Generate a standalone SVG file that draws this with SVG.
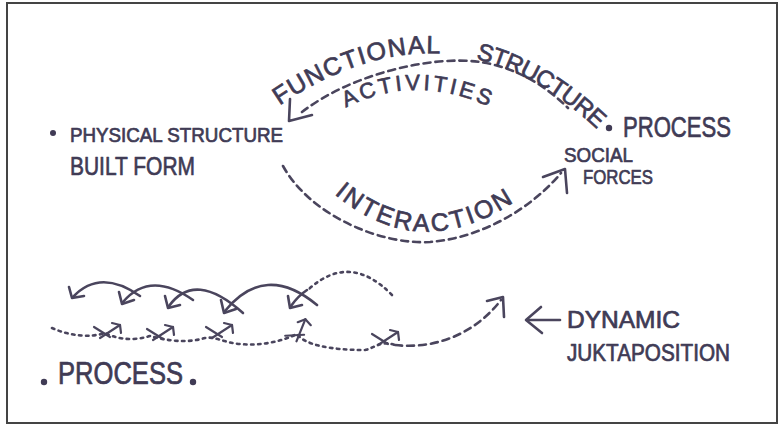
<svg xmlns="http://www.w3.org/2000/svg" xmlns:xlink="http://www.w3.org/1999/xlink" width="784" height="426" viewBox="0 0 784 426">
<style>
.ink{fill:none;stroke:#4a455d;stroke-width:2.6;stroke-linecap:round;stroke-linejoin:round}
.dash{stroke-dasharray:7 5}
.dot{stroke-dasharray:2.5 4.5}
.t{font-family:"Liberation Sans","DejaVu Sans",sans-serif;fill:#403b55;stroke:#403b55;stroke-width:0.7;stroke-linejoin:round}
.bullet{fill:#403b55}
</style>
<defs>
<path id="pFS" d="M 276 108 Q 450 -12 600 132"/>
<path id="pAct" d="M 343 109 Q 415 71 494 109"/>
<path id="pInt" d="M 332 192 Q 420 268 520 198"/>
<g id="xm" class="ink" style="stroke-width:2.2">
<path d="M -14 -4 L 2 6"/>
<path d="M -8 7 L 12 -6"/>
<path d="M 4 -8 L 12 -6 L 13 2"/>
</g>
</defs>
<rect x="7" y="3" width="770" height="420" fill="#ffffff" stroke="#444" stroke-width="2"/>

<g id="physical-structure">
<circle class="bullet" cx="53" cy="133" r="3"/>
<text class="t" x="70" y="142" font-size="20" textLength="213" lengthAdjust="spacingAndGlyphs">PHYSICAL STRUCTURE</text>
<text class="t" x="70" y="175" font-size="26" textLength="125" lengthAdjust="spacingAndGlyphs">BUILT FORM</text>
</g>

<g id="process-social">
<circle class="bullet" cx="609" cy="128" r="3.2"/>
<text class="t" x="623" y="137" font-size="29" textLength="108" lengthAdjust="spacingAndGlyphs">PROCESS</text>
<text class="t" x="564" y="162" font-size="21" textLength="69" lengthAdjust="spacingAndGlyphs">SOCIAL</text>
<text class="t" x="583" y="184" font-size="21" textLength="70" lengthAdjust="spacingAndGlyphs">FORCES</text>
</g>

<g id="process-bottom">
<circle class="bullet" cx="44" cy="382" r="3.2"/>
<text class="t" x="58" y="384" font-size="31" textLength="125" lengthAdjust="spacingAndGlyphs">PROCESS</text>
<circle class="bullet" cx="193" cy="382" r="3.2"/>
</g>

<g id="dynamic-juxtaposition">
<text class="t" x="567" y="328" font-size="23" textLength="113" lengthAdjust="spacingAndGlyphs">DYNAMIC</text>
<text class="t" x="567" y="361" font-size="23" textLength="163" lengthAdjust="spacingAndGlyphs">JUKTAPOSITION</text>
</g>

<g id="connectors">
<path class="ink dash" d="M 302 112 C 350 75, 430 55, 480 62 C 515 67, 545 85, 568 108"/>
<polyline class="ink" points="290,99 289,121 312,115"/>
<path class="ink dash" d="M 283 166 C 310 215, 380 245, 430 242 C 480 238, 530 210, 561 173"/>
<polyline class="ink" points="543,177 565,169 567,193"/>
<path class="ink" d="M 140 296 Q 100 268 73 297"/>
<polyline class="ink" points="69,287 72,298 84,296"/>
<path class="ink" d="M 193 300 Q 150 270 123 302"/>
<polyline class="ink" points="119,292 122,304 134,300"/>
<path class="ink" d="M 243 313 Q 195 270 169 306"/>
<polyline class="ink" points="165,296 168,308 180,305"/>
<path class="ink" d="M 317 305 Q 265 262 225 311"/>
<polyline class="ink" points="221,300 224,313 236,309"/>
<path class="ink" d="M 307 290 Q 298 296 291 306"/>
<path class="ink dot" d="M 392 295 Q 350 252 309 289"/>
<polyline class="ink" points="288,296 290,308 302,305"/>
<path class="ink dot" d="M 52 328 C 70 336, 90 338, 105 333 C 115 338, 130 342, 150 336 C 165 340, 185 344, 205 338 C 215 336, 225 343, 240 344 C 260 346, 280 342, 297 334 C 305 345, 330 350, 365 350 C 375 348, 380 340, 395 345"/>
<path class="ink dash" d="M 395 345 C 440 350, 478 330, 501 300"/>
<polyline class="ink" points="487,301 503,297 504,317"/>
<use xlink:href="#xm" href="#xm" transform="translate(108 331)"/>
<use xlink:href="#xm" href="#xm" transform="translate(161 333)"/>
<use xlink:href="#xm" href="#xm" transform="translate(220 331)"/>
<use xlink:href="#xm" href="#xm" transform="translate(299 331) rotate(-35)"/>
<use xlink:href="#xm" href="#xm" transform="translate(386 338)"/>
<path class="ink" d="M 560 320 L 527 320"/>
<polyline class="ink" points="541,307 526,320 542,333"/>
</g>

<g id="arc-labels">
<text class="t" font-size="25"><textPath xlink:href="#pFS" href="#pFS" startOffset="4" textLength="172" lengthAdjust="spacing">FUNCTIONAL</textPath></text>
<text class="t" font-size="24"><textPath xlink:href="#pFS" href="#pFS" startOffset="212" textLength="142" lengthAdjust="spacing">STRUCTURE</textPath></text>
<text class="t" font-size="22"><textPath xlink:href="#pAct" href="#pAct" startOffset="3" textLength="148" lengthAdjust="spacing">ACTIVITIES</textPath></text>
<text class="t" font-size="25"><textPath xlink:href="#pInt" href="#pInt" startOffset="3" textLength="195" lengthAdjust="spacing">INTERACTION</textPath></text>
</g>
</svg>
